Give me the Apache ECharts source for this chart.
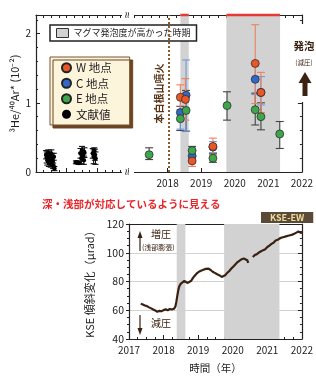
<!DOCTYPE html>
<html>
<head>
<meta charset="utf-8">
<script src="https://cdn.jsdelivr.net/npm/echarts@6/dist/echarts.min.js"></script>
<style>
  html, body { margin: 0; padding: 0; background: #fff; }
  #chart { width: 316px; height: 378px; }
</style>
</head>
<body>
<div id="chart"></div>
<script>
const FONT = 'Noto Sans CJK JP'
const TOP_MAX = 2.27

// W 地点
const wYears = [2018.38, 2018.53, 2018.73, 2019.35, 2020.61, 2020.78]
const wValues = [1.08, 1.05, 0.16, 0.37, 1.57, 1.15]
const wLow = [0.9, 0.75, 0.08, 0.25, 0.99, 0.86]
const wHigh = [1.26, 1.35, 0.24, 0.49, 2.13, 1.44]
// C 地点
const cYears = [2018.38, 2018.55, 2018.73, 2019.35, 2020.61, 2020.78]
const cValues = [0.86, 1.11, 0.23, 0.36, 1.34, 1.15]
const cLow = [0.62, 0.59, 0.15, 0.28, 1.12, 0.97]
const cHigh = [1.1, 1.62, 0.31, 0.44, 1.56, 1.38]
// E 地点
const eYears = [2017.45, 2018.38, 2018.55, 2018.73, 2019.35, 2019.77, 2020.61, 2020.78, 2021.34]
const eValues = [0.25, 0.77, 0.89, 0.31, 0.2, 0.96, 0.9, 0.8, 0.55]
const eLow = [0.18, 0.6, 0.59, 0.24, 0.14, 0.75, 0.68, 0.61, 0.34]
const eHigh = [0.35, 0.95, 1.18, 0.37, 0.27, 1.16, 1.14, 1.0, 0.73]
// 文献値 (1999-2001)
const litYears = [1999.33, 1999.35, 1999.37, 1999.4, 1999.42, 1999.44, 1999.46, 1999.48, 1999.5, 1999.52, 1999.55, 1999.56, 1999.58, 1999.6,
  2000.3, 2000.35, 2000.4, 2000.45, 2000.48, 2000.5, 2000.53, 2000.56, 2000.58,
  2000.85, 2000.88, 2000.9, 2000.92, 2000.94]
const litValues = [0.25, 0.21, 0.17, 0.27, 0.14, 0.23, 0.19, 0.12, 0.26, 0.2, 0.16, 0.09, 0.22, 0.05,
  0.14, 0.14, 0.13, 0.27, 0.2, 0.31, 0.24, 0.17, 0.28,
  0.27, 0.22, 0.3, 0.25, 0.2]
const litErr = [0.06, 0.08, 0.07, 0.05, 0.06, 0.07, 0.08, 0.05, 0.06, 0.07, 0.06, 0.04, 0.05, 0.03,
  0.02, 0.02, 0.02, 0.07, 0.08, 0.06, 0.07, 0.06, 0.07,
  0.07, 0.1, 0.05, 0.08, 0.09]

// マグマ発泡度が高かった時期
const periodStart = [2018.38, 2019.75]
const periodEnd = [2018.63, 2021.35]
const eruptionYear = 2018.03

// KSE-EW 傾斜変化
const tiltYears = [2017.34, 2017.4, 2017.46, 2017.52, 2017.58, 2017.64, 2017.7, 2017.76, 2017.82, 2017.88, 2017.94,
  2018.0, 2018.06, 2018.12, 2018.18, 2018.24, 2018.3, 2018.34, 2018.37, 2018.4, 2018.43, 2018.46, 2018.5,
  2018.55, 2018.6, 2018.65, 2018.7, 2018.75, 2018.8, 2018.85, 2018.9, 2018.96, 2019.02, 2019.08, 2019.15,
  2019.22, 2019.3, 2019.36, 2019.42, 2019.48, 2019.55, 2019.62, 2019.68, 2019.72, 2019.78, 2019.84, 2019.9,
  2019.96, 2020.02, 2020.08, 2020.14, 2020.2, 2020.26, 2020.32, 2020.37, 2020.42, 2020.45, 2020.52,
  2020.58, 2020.64, 2020.7, 2020.76, 2020.82, 2020.88, 2020.94, 2021.0, 2021.06, 2021.12, 2021.18, 2021.24,
  2021.3, 2021.36, 2021.42, 2021.48, 2021.54, 2021.6, 2021.66, 2021.72, 2021.78, 2021.84, 2021.9, 2021.95, 2022.0]
const tiltValues = [64.5, 64.0, 63.3, 62.9, 62.0, 61.3, 60.5, 59.8, 59.0, 59.6, 59.3,
  60.1, 60.6, 60.0, 60.9, 60.5, 61.0, 62.5, 66, 70.5, 74.5, 77, 78.5,
  79.5, 80.4, 79.8, 79.0, 78.8, 80.5, 82.5, 84.0, 85.6, 86.8, 87.5, 88.2,
  88.8, 89.0, 88.0, 86.8, 86.0, 85.0, 84.2, 83.2, 84.0, 84.4, 86.0, 87.3,
  89.0, 90.5, 92.0, 93.5, 94.5, 95.5, 96.0, 95.5, 94.8, 93.0, null,
  97.0, 98.5, 99.0, 100.2, 101.0, 101.8, 102.5, 104.0, 105.0, 106.2, 107.0, 108.5,
  109.0, 110.0, 110.6, 111.0, 111.4, 111.8, 112.2, 112.6, 113.2, 114.0, 114.8, 114.5, 113.5]

// 目盛
const leftYearLabels = [2000, 2001]
const rightYearLabels = [2018, 2019, 2020, 2021, 2022]
const leftQuarterTicks = []
for (let t = 1999; t <= 2002; t += 0.25) leftQuarterTicks.push(t)
const rightQuarterTicks = []
for (let t = 2017; t <= 2022; t += 0.25) rightQuarterTicks.push(t)

const SHADE_NAME = 'マグマ発泡度が高かった時期'
const INK = '#222'
const axisLine = { show: true, onZero: false, lineStyle: { color: INK, width: 1.2 } }
const tickStyle = { color: INK, width: 1 }
const label = { color: INK, fontSize: 10, fontFamily: FONT }
const yearFmt = v => String(v)

// 誤差棒
function errorSeries (name, xi, yi, years, lows, highs, color, cap) {
  return {
    name,
    type: 'custom',
    xAxisIndex: xi,
    yAxisIndex: yi,
    silent: true,
    z: 3,
    encode: { x: 0, y: [1, 2] },
    data: years.map((y, i) => [y, lows[i], highs[i]]),
    renderItem: (params, api) => {
      const lo = api.coord([api.value(0), api.value(1)])
      const hi = api.coord([api.value(0), api.value(2)])
      const st = { stroke: color, lineWidth: 1.1 }
      return {
        type: 'group',
        children: [
          { type: 'line', shape: { x1: lo[0], y1: lo[1], x2: hi[0], y2: hi[1] }, style: st },
          { type: 'line', shape: { x1: lo[0] - cap, y1: lo[1], x2: lo[0] + cap, y2: lo[1] }, style: st },
          { type: 'line', shape: { x1: hi[0] - cap, y1: hi[1], x2: hi[0] + cap, y2: hi[1] }, style: st }
        ]
      }
    }
  }
}

// 網掛け
function shadeSeries (xi, yi, redTop) {
  return {
    name: SHADE_NAME,
    type: 'custom',
    xAxisIndex: xi,
    yAxisIndex: yi,
    silent: true,
    z: 1,
    itemStyle: { color: '#d2d2d2' },
    encode: { x: [0, 1], y: 2 },
    data: periodStart.map((s, i) => [s, periodEnd[i], 0]),
    renderItem: (params, api) => {
      const cs = params.coordSys
      const a = api.coord([api.value(0), 0])[0]
      const b = api.coord([api.value(1), 0])[0]
      const children = [
        { type: 'rect', shape: { x: a, y: cs.y, width: b - a, height: cs.height }, style: { fill: '#d2d2d2' } }
      ]
      if (redTop) {
        children.push({ type: 'line', shape: { x1: a, y1: cs.y, x2: b, y2: cs.y }, style: { stroke: '#e53935', lineWidth: 2.5 } })
      }
      return { type: 'group', children }
    }
  }
}

function scatterSeries (name, xi, yi, years, values, color, size) {
  return {
    name,
    type: 'scatter',
    xAxisIndex: xi,
    yAxisIndex: yi,
    z: 4,
    symbolSize: size,
    itemStyle: { color, borderColor: '#222', borderWidth: size > 6 ? 0.7 : 0, opacity: 1 },
    data: years.map((y, i) => [y, values[i]])
  }
}

const chart = echarts.init(document.getElementById('chart'), null, { renderer: 'canvas' })

const eSeries = scatterSeries('E 地点', 2, 1, eYears, eValues, '#3ea64c', 8)
eSeries.markLine = {
  silent: true,
  symbol: 'none',
  lineStyle: { color: '#8a5a2c', type: 'dotted', width: 2 },
  label: {
    formatter: '本白根山噴火',
    position: 'insideMiddleTop',
    distance: 4,
    color: '#5a3518',
    fontSize: 10,
    fontWeight: 'bold',
    fontFamily: FONT
  },
  data: [{ xAxis: eruptionYear }]
}

const option = {
  animation: false,
  backgroundColor: '#fff',
  textStyle: { fontFamily: FONT },
  title: [
    {
      text: '深・浅部が対応しているように見える',
      left: 42,
      top: 199,
      padding: 0,
      textStyle: { color: '#e8262a', fontSize: 10.5, fontWeight: 'bold', fontFamily: FONT }
    },
    {
      text: 'KSE-EW',
      left: 261,
      top: 212,
      padding: [0, 9, 0, 9],
      backgroundColor: '#5c4a38',
      textStyle: { color: '#eedc9c', fontSize: 9, fontWeight: 'bold', fontFamily: FONT, lineHeight: 11 }
    }
  ],
  grid: [
    { left: 36, top: 15, width: 92, height: 157 },
    { left: 128, top: 15, width: 176, height: 157 },
    { left: 129, top: 224, width: 176, height: 115 }
  ],
  xAxis: [
    {
      gridIndex: 0, type: 'value', min: 1999, max: 2002, interval: 1,
      axisLine,
      axisTick: { inside: true, length: 4, lineStyle: tickStyle },
      minorTick: { show: true, splitNumber: 4, length: 2, lineStyle: tickStyle },
      axisLabel: { ...label, margin: 6, showMinLabel: false, showMaxLabel: false, formatter: yearFmt, customValues: leftYearLabels },
      splitLine: { show: false }
    },
    {
      gridIndex: 0, type: 'value', position: 'top', min: 1999, max: 2002,
      axisLine,
      axisTick: { inside: true, length: 3, lineStyle: tickStyle, customValues: leftQuarterTicks },
      axisLabel: { show: false },
      splitLine: { show: false }
    },
    {
      gridIndex: 1, type: 'value', min: 2016.82, max: 2022,
      axisLine,
      axisTick: { inside: true, length: 4, lineStyle: tickStyle, customValues: rightYearLabels },
      axisLabel: { ...label, margin: 6, formatter: yearFmt, customValues: rightYearLabels },
      splitLine: { show: false }
    },
    {
      gridIndex: 1, type: 'value', position: 'top', min: 2016.82, max: 2022,
      axisLine,
      axisTick: { inside: true, length: 3, lineStyle: tickStyle, customValues: rightQuarterTicks },
      axisLabel: { show: false },
      splitLine: { show: false }
    },
    {
      gridIndex: 2, type: 'value', min: 2017, max: 2022, interval: 1,
      name: '時間（年）', nameLocation: 'middle', nameGap: 24,
      nameTextStyle: { color: INK, fontSize: 10.5, fontFamily: FONT },
      axisLine,
      axisTick: { inside: true, length: 4, lineStyle: tickStyle },
      minorTick: { show: true, splitNumber: 4, length: 2, lineStyle: tickStyle },
      axisLabel: { ...label, margin: 6, formatter: yearFmt },
      splitLine: { show: false }
    },
    {
      gridIndex: 2, type: 'value', position: 'top', min: 2017, max: 2022,
      axisLine,
      axisTick: { show: false },
      axisLabel: { show: false },
      splitLine: { show: false }
    }
  ],
  yAxis: [
    {
      gridIndex: 0, type: 'value', min: 0, max: TOP_MAX, interval: 1,
      name: '³He/⁴⁰Ar* (10⁻²)', nameLocation: 'middle', nameGap: 16, nameRotate: 90,
      nameTextStyle: { color: INK, fontSize: 11, fontFamily: FONT },
      axisLine,
      axisTick: { inside: true, length: 4, lineStyle: tickStyle },
      minorTick: { show: true, splitNumber: 5, length: 2, lineStyle: tickStyle },
      axisLabel: { ...label, margin: 5, showMaxLabel: false },
      splitLine: { show: false }
    },
    {
      gridIndex: 1, type: 'value', position: 'right', min: 0, max: TOP_MAX, interval: 1,
      axisLine,
      axisTick: { inside: true, length: 4, lineStyle: tickStyle },
      minorTick: { show: true, splitNumber: 5, length: 2, lineStyle: tickStyle },
      axisLabel: { show: false },
      splitLine: { show: false }
    },
    {
      gridIndex: 2, type: 'value', min: 40, max: 120, interval: 20,
      name: 'KSE 傾斜変化（μrad）', nameLocation: 'middle', nameGap: 30, nameRotate: 90,
      nameTextStyle: { color: INK, fontSize: 11, fontFamily: FONT },
      axisLine,
      axisTick: { length: 3, lineStyle: tickStyle },
      minorTick: { show: true, splitNumber: 4, length: 2, lineStyle: tickStyle },
      axisLabel: { ...label, fontSize: 10.5, margin: 5 },
      splitLine: { show: true, lineStyle: { color: '#c8c8c8', width: 0.8 } }
    },
    {
      gridIndex: 2, type: 'value', position: 'right', min: 40, max: 120, interval: 20,
      axisLine,
      axisTick: { inside: true, length: 4, lineStyle: tickStyle },
      minorTick: { show: true, splitNumber: 4, length: 2, lineStyle: tickStyle },
      axisLabel: { show: false },
      splitLine: { show: false }
    }
  ],
  legend: [
    {
      data: [{ name: SHADE_NAME, icon: 'rect', itemStyle: { color: '#d2d2d2', borderColor: '#333', borderWidth: 1 } }],
      left: 50, top: 25,
      padding: [3, 6, 3, 6],
      itemWidth: 12, itemHeight: 9,
      backgroundColor: '#fff', borderColor: '#222', borderWidth: 1.5,
      selectedMode: false,
      textStyle: { color: INK, fontSize: 9, fontFamily: FONT }
    },
    {
      data: ['W 地点', 'C 地点', 'E 地点', '文献値'],
      orient: 'vertical',
      left: 50, top: 57,
      padding: [5, 18, 5, 11],
      itemGap: 4,
      itemWidth: 9, itemHeight: 9,
      icon: 'circle',
      backgroundColor: '#fdf4dc', borderColor: '#7a5230', borderWidth: 1,
      shadowColor: '#6b4522', shadowOffsetX: 3, shadowOffsetY: 3, shadowBlur: 0,
      selectedMode: false,
      textStyle: { color: INK, fontSize: 11.5, fontFamily: FONT }
    }
  ],
  series: [
    shadeSeries(2, 1, true),
    shadeSeries(4, 2, false),
    errorSeries('文献値 err', 0, 0, litYears,
      litValues.map((v, i) => v - litErr[i]), litValues.map((v, i) => v + litErr[i]), '#111', 3),
    errorSeries('E err', 2, 1, eYears, eLow, eHigh, '#444', 4),
    errorSeries('C err', 2, 1, cYears, cLow, cHigh, '#6d9be0', 4),
    errorSeries('W err', 2, 1, wYears, wLow, wHigh, '#f0805c', 4),
    scatterSeries('文献値', 0, 0, litYears, litValues, '#000', 4.5),
    scatterSeries('C 地点', 2, 1, cYears, cValues, '#3468c6', 8),
    scatterSeries('W 地点', 2, 1, wYears, wValues, '#e8572a', 8),
    eSeries,
    {
      name: 'KSE-EW',
      type: 'line',
      xAxisIndex: 4,
      yAxisIndex: 2,
      z: 3,
      showSymbol: false,
      connectNulls: false,
      lineStyle: { color: '#3a2112', width: 2.2 },
      data: tiltYears.map((y, i) => [y, tiltValues[i] === null ? '-' : tiltValues[i]])
    }
  ],
  graphic: [
    // 軸の切れ目
    { type: 'text', x: 128, y: 15, rotation: Math.PI / 2, z: 100,
      style: { text: '≈', fill: INK, fontSize: 12, align: 'center', verticalAlign: 'middle', backgroundColor: '#fff' } },
    { type: 'text', x: 128, y: 172, rotation: Math.PI / 2, z: 100,
      style: { text: '≈', fill: INK, fontSize: 12, align: 'center', verticalAlign: 'middle', backgroundColor: '#fff' } },
    // 発泡（減圧）
    { type: 'rect', z: 90, shape: { x: 296, y: 24, width: 20, height: 78 }, style: { fill: '#fff' } },
    { type: 'text', x: 304, y: 41, z: 100,
      style: { text: '発泡', fill: '#3a2112', fontSize: 10.5, fontWeight: 'bold', fontFamily: FONT, align: 'center' } },
    { type: 'text', x: 304, y: 59, z: 100,
      style: { text: '(減圧)', fill: '#3a2112', fontSize: 6.5, fontFamily: FONT, align: 'center' } },
    { type: 'polygon', z: 100,
      shape: { points: [[305, 72], [298.5, 83], [302.5, 83], [302.5, 96], [307.5, 96], [307.5, 83], [311.5, 83]] },
      style: { fill: '#3a2112' } },
    // 増圧・減圧
    { type: 'line', z: 100, shape: { x1: 140, y1: 251, x2: 140, y2: 237 }, style: { stroke: '#3a2112', lineWidth: 1.2 } },
    { type: 'polygon', z: 100, shape: { points: [[140, 231], [137.5, 238], [142.5, 238]] }, style: { fill: '#3a2112' } },
    { type: 'text', x: 151, y: 229, z: 100,
      style: { text: '増圧', fill: '#3a2112', fontSize: 10, fontFamily: FONT } },
    { type: 'text', x: 142, y: 244, z: 100,
      style: { text: '(浅部膨張)', fill: '#3a2112', fontSize: 7, fontFamily: FONT } },
    { type: 'line', z: 100, shape: { x1: 140, y1: 315, x2: 140, y2: 329 }, style: { stroke: '#3a2112', lineWidth: 1.2 } },
    { type: 'polygon', z: 100, shape: { points: [[140, 335], [137.5, 328], [142.5, 328]] }, style: { fill: '#3a2112' } },
    { type: 'text', x: 151, y: 318, z: 100,
      style: { text: '減圧', fill: '#3a2112', fontSize: 10, fontFamily: FONT } }
  ]
}

chart.setOption(option)
</script>
</body>
</html>
